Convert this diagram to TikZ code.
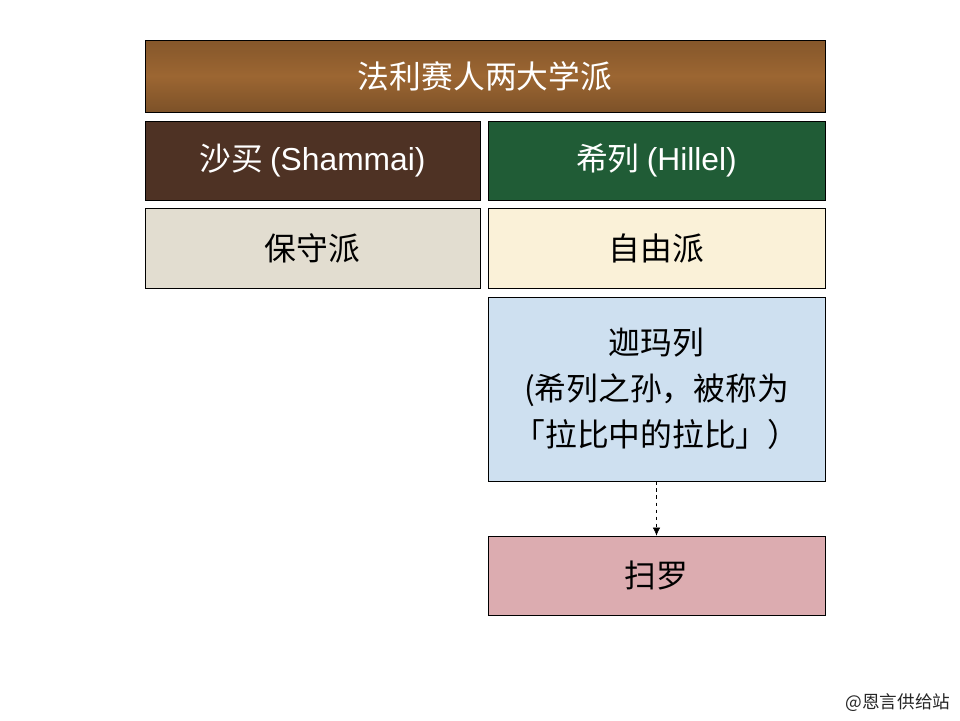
\documentclass[tikz,border=0pt]{standalone}
\usepackage{fontspec}
\setmainfont{Noto Sans CJK SC}
\newfontfamily\latin{Liberation Sans}
\usetikzlibrary{arrows.meta, positioning}

\definecolor{woodbrown}{RGB}{156,102,50}
\definecolor{marblebrown}{RGB}{78,50,36}
\definecolor{marblegreen}{RGB}{32,92,54}
\definecolor{stonebeige}{RGB}{226,221,208}
\definecolor{paper}{RGB}{250,241,216}
\definecolor{skyblue}{RGB}{206,224,240}
\definecolor{rosepink}{RGB}{220,172,176}

\newlength{\mypx}
\setlength{\mypx}{0.85pt}
\tikzset{
  box/.style={draw=black, line width=0.6pt, minimum width=335\mypx, minimum height=80\mypx,
              inner sep=0pt, font=\fontsize{27}{32}\selectfont, align=center},
  darkbox/.style={box, text=white},
}

\begin{document}
\begin{tikzpicture}[x=\mypx, y=-\mypx]
\useasboundingbox (0,0) rectangle (960,720);

\node[darkbox, top color=woodbrown!85!black, bottom color=woodbrown!80!black, middle color=woodbrown,
      minimum width=680\mypx, minimum height=72\mypx] (school) at (485,76) {法利赛人两大学派};
\node[darkbox, fill=marblebrown, minimum height=79\mypx] (shammai) at (312.5,160.5) {沙买 {\latin(Shammai)}};
\node[darkbox, fill=marblegreen, minimum width=337\mypx, minimum height=79\mypx] (hillel) at (656.5,160.5) {希列 {\latin(Hillel)}};
\node[box, fill=stonebeige] (conserv) at (312.5,248) {保守派};
\node[box, fill=paper, minimum width=337\mypx] (liberal) at (656.5,248) {自由派};
\node[box, fill=skyblue, minimum width=337\mypx, minimum height=184\mypx,
      font=\fontsize{27}{39}\selectfont] (gamaliel) at (656.5,389) {迦玛列\\(希列之孙，被称为\\「拉比中的拉比」）};
\node[box, fill=rosepink, minimum width=337\mypx, minimum height=79\mypx] (saul) at (656.5,575.5) {扫罗};

\draw[dashed, line width=0.5pt, -{Latex[length=2.4mm, width=2.2mm]}] (gamaliel) -- (saul);

\node[font=\fontsize{15}{17}\selectfont, text=black!85] (mark) at (898,703) {@恩言供给站};
\end{tikzpicture}
\end{document}
